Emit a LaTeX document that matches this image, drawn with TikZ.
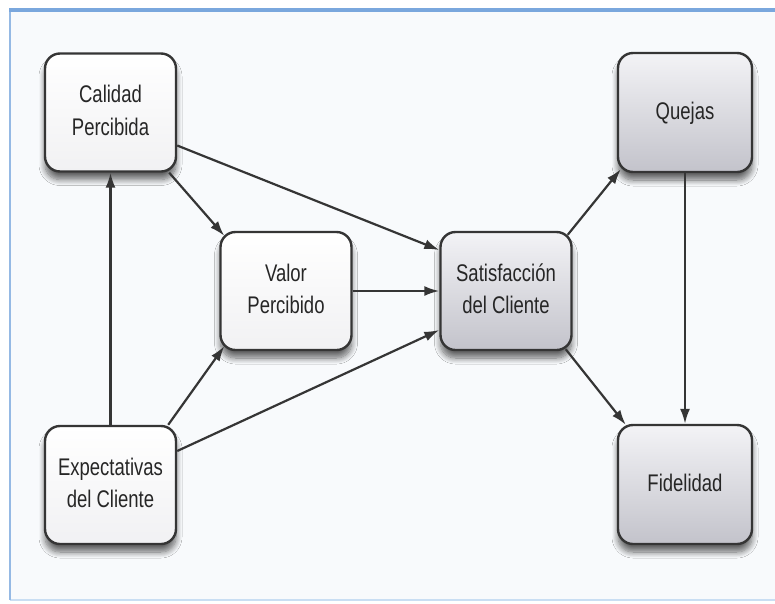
\documentclass[tikz,border=0pt]{standalone}
\usepackage{fontspec}
\setmainfont{Liberation Sans}
\usetikzlibrary{arrows.meta,calc,shadows,shadows.blur}
\definecolor{txt}{HTML}{262626}
\definecolor{edge}{HTML}{353535}
\definecolor{frameblue}{HTML}{7AA7DD}
\definecolor{framelight}{HTML}{C9DEF3}
\definecolor{bg}{HTML}{F8FAFC}
\definecolor{graytop}{HTML}{F3F3F6}
\definecolor{graybot}{HTML}{C3C3CB}
\definecolor{whitebot}{HTML}{F1F1F3}
\newcommand{\tl}[1]{\scalebox{1}[1.3]{\begin{tabular}{@{}c@{}}#1\end{tabular}}}
\tikzset{
  box/.style={draw=edge, line width=2.4pt, rounded corners=15pt, text=txt,
    minimum width=131pt, minimum height=118pt, align=center, inner sep=0pt,
    font=\fontsize{18.5}{25}\selectfont,
    blur shadow={shadow xshift=0pt, shadow yshift=-8pt, shadow blur steps=10, shadow opacity=60, shadow blur radius=6pt}},
  whitebox/.style={box, top color=white, bottom color=whitebot},
  graybox/.style={box, top color=graytop, bottom color=graybot},
  arr/.style={draw=edge, line width=2.2pt, -{Latex[length=15pt,width=10pt]}}
}
\begin{document}
\begin{tikzpicture}[x=1pt,y=-1pt]
\useasboundingbox (0,0) rectangle (775,603);
\fill[white] (0,0) rectangle (775,603);
\fill[bg] (10,10) rectangle (775,600);
\draw[framelight, line width=1.2pt] (10,600) -- (775,600);
\draw[frameblue!80, line width=2pt] (10,10) -- (10,600);
\draw[frameblue, line width=3.5pt] (9,10) -- (775,10);

\node[whitebox] (cal) at (110.5,112.5) {\tl{Calidad\\Percibida}};
\node[whitebox] (exp) at (110.5,485) {\tl{Expectativas\\del Cliente}};
\node[whitebox] (val) at (286,291) {\tl{Valor\\Percibido}};
\node[graybox] (sat) at (506,291) {\tl{Satisfacción\\del Cliente}};
\node[graybox, minimum width=134pt, minimum height=119pt] (que) at (685,112.5) {\tl{Quejas}};
\node[graybox, minimum width=134pt, minimum height=119pt] (fid) at (685,484.5) {\tl{Fidelidad}};

\draw[arr] (exp.north) -- (cal.south);
\draw[arr] ($(cal.south east)+(-8,0)$) -- ($(val.north west)+(5,5)$);
\draw[arr] ($(cal.east)+(0,33)$) -- ($(sat.west)+(0,-41)$);
\draw[arr] (val.east) -- (sat.west);
\draw[arr] ($(exp.north east)+(-9,0)$) -- ($(val.south west)+(5,-5)$);
\draw[arr] ($(exp.east)+(0,-34)$) -- ($(sat.west)+(0,39)$);
\draw[arr] ($(sat.north east)+(-5,4)$) -- ($(que.south west)+(4,-4)$);
\draw[arr] ($(sat.south east)+(-7,-2)$) -- ($(fid.north west)+(9,1)$);
\draw[arr] (que.south) -- (fid.north);
\end{tikzpicture}
\end{document}
